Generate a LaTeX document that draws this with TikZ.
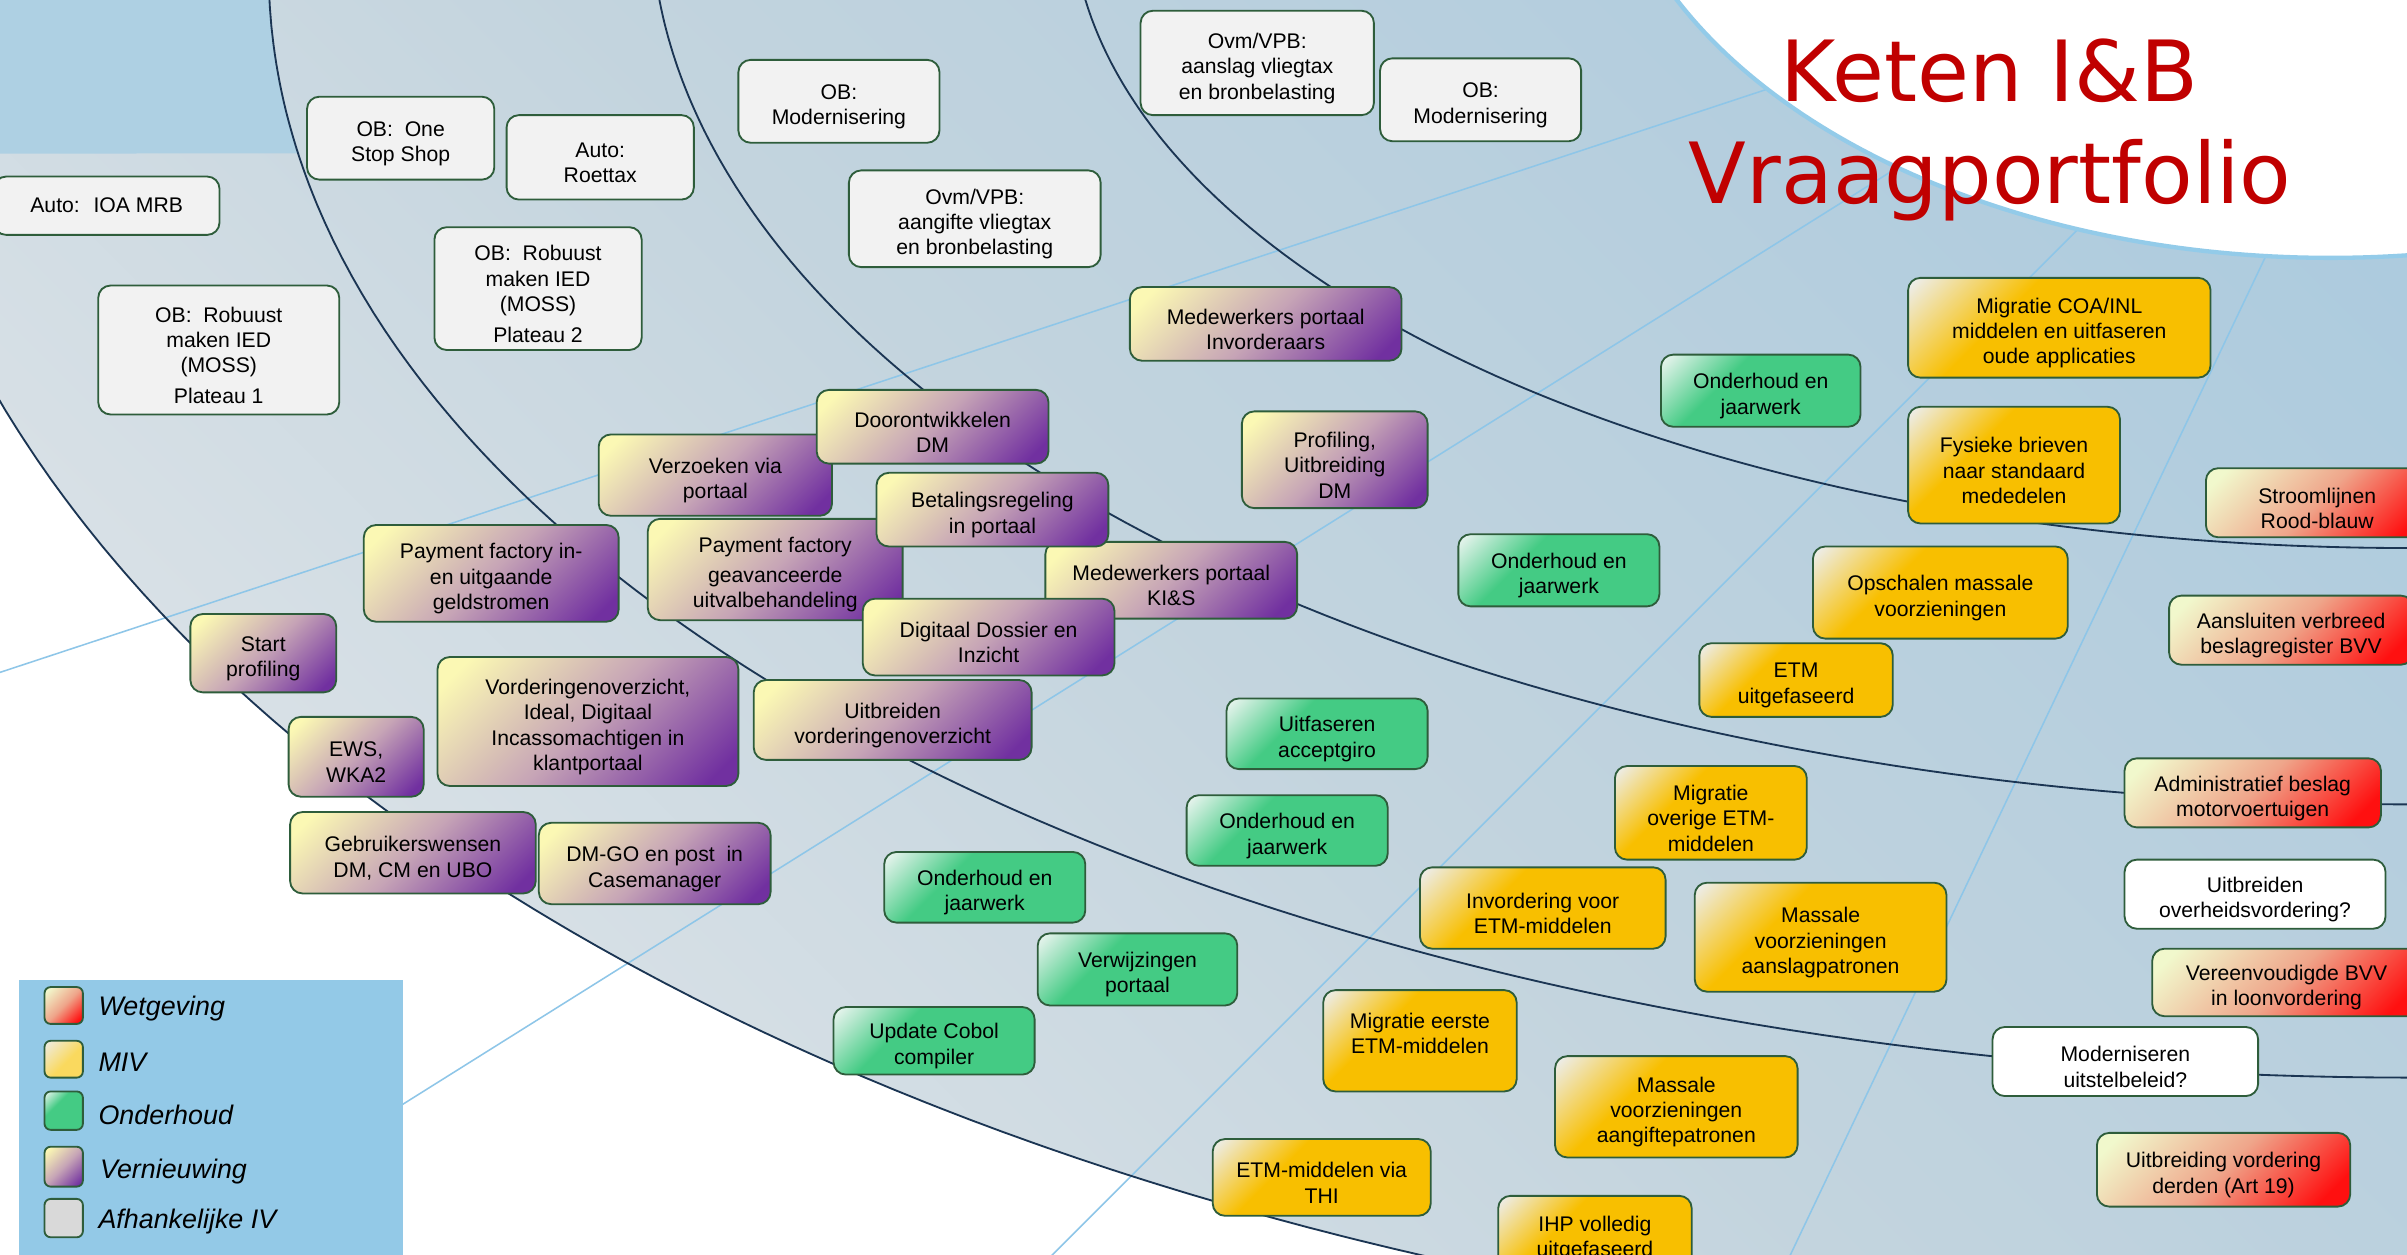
\documentclass[tikz,border=0pt]{standalone}
\usepackage{fontspec}
\setmainfont{Liberation Sans}
\newfontfamily\titlefont{DejaVu Sans}
\definecolor{vA}{HTML}{FBF8B4}
\definecolor{vM}{HTML}{C6A4B6}
\definecolor{vB}{HTML}{7130A0}
\definecolor{mA}{HTML}{EDEDE8}
\definecolor{mB}{HTML}{F8BF00}
\definecolor{mL}{HTML}{FAD95E}
\definecolor{oA}{HTML}{E8F4EE}
\definecolor{oB}{HTML}{44CB84}
\definecolor{wA}{HTML}{F1F8CC}
\definecolor{wM}{HTML}{EFA58A}
\definecolor{wB}{HTML}{FF1010}
\definecolor{afhc}{HTML}{F2F2F2}
\definecolor{afhleg}{HTML}{D9D9D9}
\definecolor{boxline}{HTML}{2E5D3B}
\definecolor{arcc}{HTML}{1B3553}
\definecolor{spoke}{HTML}{8EC6E8}
\definecolor{titleline}{HTML}{93CBE9}
\definecolor{titlered}{HTML}{C00000}
\definecolor{legbg}{HTML}{93C9E7}
\definecolor{bgA}{HTML}{ADCBDE}
\definecolor{bgM}{HTML}{C3D4DE}
\definecolor{bgB}{HTML}{E0E5E9}
\definecolor{tlrect}{HTML}{AED0E3}
\pgfdeclareverticalshading{vernsh}{100bp}{color(0bp)=(vB); color(20bp)=(vB); color(50bp)=(vM); color(80bp)=(vA); color(100bp)=(vA)}
\pgfdeclareverticalshading{mivsh}{100bp}{color(0bp)=(mB); color(62bp)=(mB); color(84bp)=(mA); color(100bp)=(mA)}
\pgfdeclareverticalshading{mivlegsh}{100bp}{color(0bp)=(mL); color(45bp)=(mL); color(85bp)=(mA); color(100bp)=(mA)}
\pgfdeclareverticalshading{ondsh}{100bp}{color(0bp)=(oB); color(62bp)=(oB); color(84bp)=(oA); color(100bp)=(oA)}
\pgfdeclareverticalshading{wetsh}{100bp}{color(0bp)=(wB); color(22bp)=(wB); color(50bp)=(wM); color(80bp)=(wA); color(100bp)=(wA)}
\pgfdeclareverticalshading{bgsh}{100bp}{color(0bp)=(bgB); color(22bp)=(bgB); color(50bp)=(bgM); color(80bp)=(bgA); color(100bp)=(bgA)}
\tikzset{
  ibox/.style={draw=boxline, line width=1.2pt, rounded corners=8pt, inner sep=0pt, outer sep=0pt},
  boxtext/.style={inner sep=0pt, align=center, text=black, font=\fontsize{13.8}{16.5}\selectfont},
  vern/.style={ibox, shade, shading=vernsh, shading angle=45},
  miv/.style={ibox, shade, shading=mivsh, shading angle=45},
  ond/.style={ibox, shade, shading=ondsh, shading angle=45},
  wet/.style={ibox, shade, shading=wetsh, shading angle=45},
  afh/.style={ibox, fill=afhc},
  wbox/.style={ibox, fill=white},
  arcline/.style={draw=arcc, line width=1.2pt},
  spokeline/.style={draw=spoke, line width=1pt},
  legtext/.style={font=\fontsize{17.5}{20}\selectfont\itshape, inner sep=0pt, anchor=west, text=black},
  titletext/.style={font=\titlefont\fontsize{55}{60}\selectfont, text=titlered, anchor=base, inner sep=0pt},
}
\newcommand\bx[8][3.5]{%
  \node[#3, minimum width={(#6)-(#4)}, minimum height={(#7)-(#5)}] (#2) at ({((#4)+(#6))/2},{((#5)+(#7))/2}) {};
  \node[boxtext] (#2t) at ([yshift=-#1pt]#2.center) {#8};}
\begin{document}
\begin{tikzpicture}[x=1pt,y=-1pt]
\useasboundingbox (0,0) rectangle (1568,817);
\fill[white] (0,0) rectangle (1568,817);
\begin{scope}
\clip (0,0) rectangle (1568,817);
% ring area
\begin{scope}
\clip (-10,-120) -- plot[domain=185:100,samples=200] ({1536+1620*cos(\x)},{-29+914*sin(\x)}) -- (1700,900) -- (1700,-120) -- cycle;
\shade[shading=bgsh, shading angle=-45] (0,0) rectangle (1568,817);
\end{scope}
% top-left rectangle
\fill[tlrect] (-5,-10.2) -- plot[domain=179.3:170.5,samples=30] ({1571+1396*cos(\x)},{-19+721*sin(\x)}) -- (-5,100) -- cycle;
% spokes
\draw[spokeline] (-10,441.3) -- (1300,9);
\draw[spokeline] (150,789.8) -- (1400,6.4);
\draw[spokeline] (650,853) -- (1450,53);
\draw[spokeline] (1150,851.7) -- (1520,74.4);
% arcs
\draw[arcline] plot[domain=100:185,samples=200] ({1536+1620*cos(\x)},{-29+914*sin(\x)});
\draw[arcline] plot[domain=85:182,samples=200] ({1571+1396*cos(\x)},{-19+721*sin(\x)});
\draw[arcline] plot[domain=85:178,samples=200] ({1567+1143*cos(\x)},{-57+581*sin(\x)});
\draw[arcline] plot[domain=85:176,samples=200] ({1568+870*cos(\x)},{-60+417*sin(\x)});
% title shape
\fill[white] plot[domain=40:165,samples=120] ({1518+474*cos(\x)},{-132+300*sin(\x)}) -- (1000,-200) -- (1900,-200) -- cycle;
\draw[titleline, line width=2.8pt] plot[domain=40:165,samples=120] ({1518+474*cos(\x)},{-132+300*sin(\x)});
\node[titletext] (title1) at (1296,66) {Keten I\&B};
\node[titletext] (title2) at (1296.5,132.5) {Vraagportfolio};
% Afhankelijke IV
\bx[0]{a1}{afh}{-4}{115}{143}{153}{Auto:~ IOA MRB}
\bx{a2}{afh}{64}{186}{221}{270}{OB:~ Robuust\\maken IED\\(MOSS)\\[3.5pt]Plateau 1}
\bx{a3}{afh}{200}{63}{322}{117}{OB:~ One\\Stop Shop}
\bx{a4}{afh}{330}{75}{452}{130}{Auto:\\Roettax}
\bx{a5}{afh}{283}{148}{418}{228}{OB:~ Robuust\\maken IED\\(MOSS)\\[3.5pt]Plateau 2}
\bx{a6}{afh}{481}{39}{612}{93}{OB:\\Modernisering}
\bx{a7}{afh}{553}{111}{717}{174}{Ovm/VPB:\\aangifte vliegtax\\en bronbelasting}
\bx{a8}{afh}{743}{7}{895}{75}{Ovm/VPB:\\aanslag vliegtax\\en bronbelasting}
\bx{a9}{afh}{899}{38}{1030}{92}{OB:\\Modernisering}
% Vernieuwing
\bx{v1}{vern}{736}{187}{913}{235}{Medewerkers portaal\\Invorderaars}
\bx{v3}{vern}{390}{283}{542}{336}{Verzoeken via\\portaal}
\bx{v2}{vern}{532}{254}{683}{302}{Doorontwikkelen\\DM}
\bx{v7}{vern}{422}{338}{588}{404}{Payment factory\\[3pt]geavanceerde\\uitvalbehandeling}
\bx{v8}{vern}{681}{353}{845}{403}{Medewerkers portaal\\KI\&S}
\bx{v4}{vern}{571}{308}{722}{356}{Betalingsregeling\\in portaal}
\bx{v9}{vern}{562}{390}{726}{440}{Digitaal Dossier en\\Inzicht}
\bx{v5}{vern}{809}{268}{930}{331}{Profiling,\\Uitbreiding\\DM}
\bx{v6}{vern}{237}{342}{403}{405}{Payment factory in-\\en uitgaande\\geldstromen}
\bx{v10}{vern}{124}{400}{219}{451}{Start\\profiling}
\bx{v11}{vern}{285}{428}{481}{512}{Vorderingenoverzicht,\\Ideal, Digitaal\\Incassomachtigen in\\klantportaal}
\bx{v12}{vern}{491}{443}{672}{495}{Uitbreiden\\vorderingenoverzicht}
\bx{v13}{vern}{188}{467}{276}{519}{EWS,\\WKA2}
\bx{v14}{vern}{189}{529}{349}{582}{Gebruikerswensen\\DM, CM en UBO}
\bx{v15}{vern}{351}{536}{502}{589}{DM-GO en post~ in\\Casemanager}
% Onderhoud
\bx{o1}{ond}{1082}{231}{1212}{278}{Onderhoud en\\jaarwerk}
\bx{o2}{ond}{950}{348}{1081}{395}{Onderhoud en\\jaarwerk}
\bx{o3}{ond}{799}{455}{930}{501}{Uitfaseren\\acceptgiro}
\bx{o4}{ond}{773}{518}{904}{564}{Onderhoud en\\jaarwerk}
\bx{o5}{ond}{576}{555}{707}{601}{Onderhoud en\\jaarwerk}
\bx{o6}{ond}{676}{608}{806}{655}{Verwijzingen\\portaal}
\bx{o7}{ond}{543}{656}{674}{700}{Update Cobol\\compiler}
% MIV
\bx{m1}{miv}{1243}{181}{1440}{246}{Migratie COA/INL\\middelen en uitfaseren\\oude applicaties}
\bx{m2}{miv}{1243}{265}{1381}{341}{Fysieke brieven\\naar standaard\\mededelen}
\bx{m3}{miv}{1181}{356}{1347}{416}{Opschalen massale\\voorzieningen}
\bx{m4}{miv}{1107}{419}{1233}{467}{ETM\\uitgefaseerd}
\bx{m5}{miv}{1052}{499}{1177}{560}{Migratie\\overige ETM-\\middelen}
\bx{m6}{miv}{925}{565}{1085}{618}{Invordering voor\\ETM-middelen}
\bx{m7}{miv}{1104}{575}{1268}{646}{Massale\\voorzieningen\\aanslagpatronen}
\bx{m8}{miv}{862}{645}{988}{711}{Migratie eerste\\ETM-middelen\\\mbox{}}
\bx{m9}{miv}{1013}{688}{1171}{754}{Massale\\voorzieningen\\aangiftepatronen}
\bx{m10}{miv}{790}{742}{932}{792}{ETM-middelen via\\THI}
\bx[1.5]{m11}{miv}{976}{779}{1102}{832}{IHP volledig\\uitgefaseerd}
% Wetgeving
\bx{w1}{wet}{1437}{305}{1582}{350}{Stroomlijnen\\Rood-blauw}
\bx{w2}{wet}{1413}{388}{1572}{433}{Aansluiten verbreed\\beslagregister BVV}
\bx{w3}{wet}{1384}{494}{1551}{539}{Administratief beslag\\motorvoertuigen}
\bx{w4}{wet}{1402}{618}{1577}{662}{Vereenvoudigde BVV\\in loonvordering}
\bx{w5}{wet}{1366}{738}{1531}{786}{Uitbreiding vordering\\derden (Art 19)}
% White
\bx{u1}{wbox}{1384}{560}{1554}{605}{Uitbreiden\\overheidsvordering?}
\bx{u2}{wbox}{1298}{669}{1471}{714}{Moderniseren\\uitstelbeleid?}
% Legend
\node[fill=legbg, minimum width=250pt, minimum height=190pt, inner sep=0pt, anchor=north west] (legend) at (12,638) {};
\node[wet, rounded corners=4pt, minimum width=25pt, minimum height=24pt] (k1) at (41.5,655) {};
\node[ibox, shade, shading=mivlegsh, shading angle=45, rounded corners=4pt, minimum width=25pt, minimum height=24pt] (k2) at (41.5,690) {};
\node[ond, rounded corners=4pt, minimum width=25pt, minimum height=25pt] (k3) at (41.5,723.5) {};
\node[vern, rounded corners=4pt, minimum width=25pt, minimum height=26pt] (k4) at (41.5,760) {};
\node[ibox, fill=afhleg, rounded corners=4pt, minimum width=25pt, minimum height=25pt] (k5) at (41.5,793.5) {};
\node[legtext] (kt1) at (64,657) {Wetgeving};
\node[legtext] (kt2) at (64,692) {MIV};
\node[legtext] (kt3) at (64,726) {Onderhoud};
\node[legtext] (kt4) at (65,763) {Vernieuwing};
\node[legtext] (kt5) at (64,796) {Afhankelijke IV};
\end{scope}
\end{tikzpicture}
\end{document}
